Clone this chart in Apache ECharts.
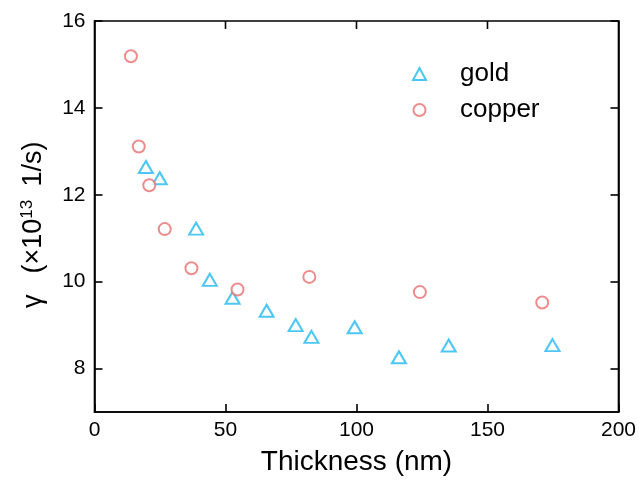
<!DOCTYPE html>
<html>
<head>
<meta charset="utf-8">
<script src="https://cdn.jsdelivr.net/npm/echarts@6/dist/echarts.min.js"></script>
<style>
  html, body { margin: 0; padding: 0; background: #fff; }
  #main { width: 639px; height: 481px; }
</style>
</head>
<body>
<div id="main"></div>
<script>
// 数据：厚度 (nm) 与 γ (×10^13 1/s)
var goldThickness = [19.6, 24.9, 38.8, 44.0, 52.7, 65.7, 76.8, 82.8, 99.3, 116.2, 135.2, 174.8];
var goldGamma = [12.64, 12.38, 11.22, 10.04, 9.63, 9.33, 9.0, 8.73, 8.95, 8.26, 8.53, 8.54];
var copperThickness = [13.9, 16.9, 20.9, 26.8, 37.0, 54.6, 82.0, 124.2, 170.9];
var copperGamma = [15.19, 13.11, 12.22, 11.21, 10.31, 9.82, 10.11, 9.76, 9.52];
var xTicks = [0, 50, 100, 150, 200];
var yTicks = [8, 10, 12, 14, 16];

function pairs(xs, ys) {
    return xs.map(function (x, i) { return [x, ys[i]]; });
}

var font = 'Liberation Sans, Arial, sans-serif';
var lineStyle = { color: '#000', width: 1.6 };

var myChart = echarts.init(document.getElementById('main'));
var option = {
    animation: false,
    // 外框
    grid: { left: 94.5, right: 16.5, top: 21, bottom: 69, show: true, borderColor: '#000', borderWidth: 1.6 },
    legend: {
        orient: 'vertical',
        left: 407,
        top: 56,
        itemWidth: 13,
        itemHeight: 12,
        itemGap: 10,
        textStyle: { fontFamily: font, fontSize: 26, lineHeight: 26, color: '#000', padding: [0, 0, 0, 29] },
        data: ['gold', 'copper']
    },
    xAxis: {
        type: 'value', min: 0, max: 200, interval: 50, position: 'bottom',
        name: 'Thickness (nm)', nameLocation: 'middle', nameGap: 36,
        nameTextStyle: { fontFamily: font, fontSize: 28, color: '#000' },
        axisLine: { onZero: false, lineStyle: lineStyle },
        axisTick: { inside: true, length: 8, lineStyle: lineStyle },
        axisLabel: { fontFamily: font, fontSize: 21, color: '#000', margin: 8, customValues: xTicks },
        splitLine: { show: false }
    },
    yAxis: [{
        type: 'value', min: 7, max: 16, interval: 1, position: 'left',
        name: '{g|γ }{a|(×10}{s|13}{b| 1/s)}', nameLocation: 'middle', nameGap: 46,
        nameTextStyle: {
            fontFamily: font, color: '#000',
            rich: {
                g: { fontFamily: font, fontSize: 27, color: '#000', lineHeight: 30, width: 36, align: 'center' },
                a: { fontFamily: font, fontSize: 27, color: '#000', lineHeight: 30, padding: [0, 0, 0, 6] },
                s: { fontFamily: font, fontSize: 17, color: '#000', verticalAlign: 'top', lineHeight: 18 },
                b: { fontFamily: font, fontSize: 27, color: '#000', lineHeight: 30, padding: [0, 24, 0, 6] }
            }
        },
        axisLine: { onZero: false, lineStyle: lineStyle },
        axisTick: { inside: true, length: 8, lineStyle: lineStyle, customValues: yTicks },
        axisLabel: { fontFamily: font, fontSize: 21, color: '#000', margin: 9, customValues: yTicks },
        splitLine: { show: false }
    }, {
        type: 'value', min: 7, max: 16, interval: 1, position: 'right',
        axisLine: { onZero: false, lineStyle: lineStyle },
        axisTick: { inside: true, length: 8, lineStyle: lineStyle, customValues: yTicks },
        axisLabel: { show: false },
        splitLine: { show: false }
    }],
    series: [{
        name: 'gold',
        type: 'scatter',
        symbol: 'emptyTriangle',
        symbolSize: [14, 12],
        itemStyle: { color: '#1fb9f0', borderWidth: 1.6 },
        data: pairs(goldThickness, goldGamma)
    }, {
        name: 'copper',
        type: 'scatter',
        symbol: 'emptyCircle',
        symbolSize: 12,
        itemStyle: { color: '#e86f6f', borderWidth: 1.6 },
        data: pairs(copperThickness, copperGamma)
    }]
};
myChart.setOption(option);

// 顶边的刻度：用 grid 坐标换算出像素位置
var topTicks = [];
xTicks.slice(1, -1).forEach(function (v) {
    var p = myChart.convertToPixel({ gridIndex: 0 }, [v, 16]);
    if (p && isFinite(p[0]) && isFinite(p[1])) {
        topTicks.push({
            type: 'line', z: 100, silent: true,
            shape: { x1: p[0], y1: p[1], x2: p[0], y2: p[1] + 8 },
            style: { stroke: '#000', lineWidth: 1.6 }
        });
    }
});
myChart.setOption({ graphic: { elements: topTicks } });
</script>
</body>
</html>
